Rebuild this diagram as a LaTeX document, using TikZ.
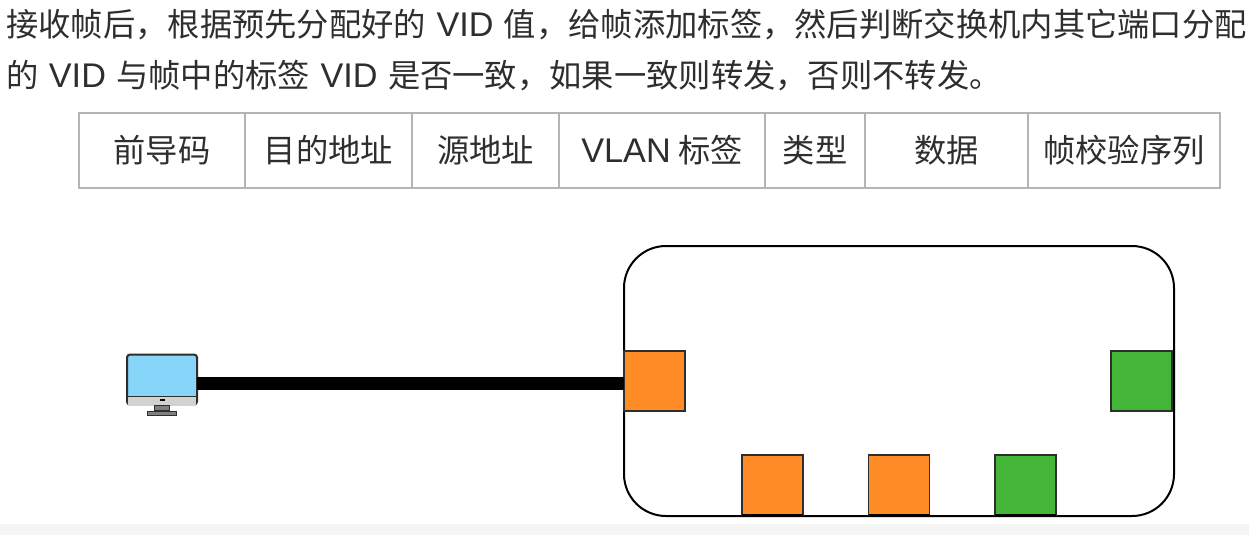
\documentclass[tikz,border=0pt]{standalone}
\usepackage{fontspec}
\usepackage{xcolor}
\setmainfont{Noto Sans CJK SC}
\newfontfamily\latinfont[Scale=1.06]{Liberation Sans}
\newcommand{\lat}[1]{{\latinfont #1}}
\usetikzlibrary{positioning}
\definecolor{portorange}{HTML}{FF8C26}
\definecolor{portgreen}{HTML}{43B638}
\definecolor{screenblue}{HTML}{87D5F8}
\definecolor{cellgray}{HTML}{B4B4B4}
\definecolor{stripgray}{HTML}{F5F5F5}
\definecolor{inkgray}{HTML}{2E2E2E}

\begin{document}
\begin{tikzpicture}[x=1pt,y=-1pt,font=\fontsize{32.3}{38}\selectfont,
 textline/.style={anchor=west,inner sep=0pt,text=inkgray,text height=28pt,text depth=3pt},
 cell/.style={draw=cellgray,line width=1.2pt,minimum height=75pt,inner sep=0pt,outer sep=0pt,text=inkgray},
 port/.style={draw=inkgray,line width=1.5pt,minimum width=61pt,minimum height=60pt,inner sep=0pt,outer sep=0pt},
 cable/.style={line width=13pt,black}]
\useasboundingbox (0,0) rectangle (1249,535);
\fill[stripgray] (0,524) rectangle (1249,535);
% text
\node[textline] (line1a) at (6,24) {接收帧后，根据预先分配好的};
\node[textline,right=10pt of line1a] (line1b) {\lat{VID}};
\node[textline,right=10pt of line1b] (line1c) {值，给帧添加标签，然后判断交换机内其它端口分配};
\node[textline] (line2a) at (6,75) {的};
\node[textline,right=10pt of line2a] (line2b) {\lat{VID}};
\node[textline,right=10pt of line2b] (line2c) {与帧中的标签};
\node[textline,right=10pt of line2c] (line2d) {\lat{VID}};
\node[textline,right=10pt of line2d] (line2e) {是否一致，如果一致则转发，否则不转发。};
% frame
\node[cell,minimum width=166pt,anchor=north west] (preamble) at (79,113) {前导码};
\node[cell,minimum width=167pt,right=0pt of preamble] (dest) {目的地址};
\node[cell,minimum width=147pt,right=0pt of dest] (source) {源地址};
\node[cell,minimum width=206pt,right=0pt of source] (vlan) {\lat{VLAN} 标签};
\node[cell,minimum width=100pt,right=0pt of vlan] (type) {类型};
\node[cell,minimum width=163pt,right=0pt of type] (data) {数据};
\node[cell,minimum width=192pt,right=0pt of data] (fcs) {帧校验序列};
% switch
\node[draw=black,line width=2pt,rounded corners=42pt,minimum width=550pt,minimum height=270pt,inner sep=0pt] (switch) at (899,381) {};
\node[port,fill=portorange] (port1) at (654.5,381) {};
\node[port,fill=portgreen] (port2) at (1141.5,381) {};
\node[port,fill=portorange] (port3) at (772.5,485) {};
\node[port,fill=portorange] (port4) at (899,485) {};
\node[port,fill=portgreen] (port5) at (1025.5,485) {};
\draw[line width=3pt,black] (port3.south west) -- (port3.south east);
\draw[line width=3pt,black] (port4.south west) -- (port4.south east);
\draw[line width=3pt,black] (port5.south west) -- (port5.south east);
% computer
\node[draw=inkgray,line width=2pt,fill=screenblue,rounded corners=3pt,minimum width=70pt,minimum height=50pt,inner sep=0pt,outer sep=0pt] (monitor) at (162,379.5) {};
\fill[gray!35] ([xshift=1pt,yshift=-1pt]monitor.south west) rectangle ([xshift=-1pt,yshift=8pt]monitor.south east);
\draw[inkgray,line width=1.2pt] ([yshift=8pt]monitor.south west) -- ([yshift=8pt]monitor.south east);
\fill[black] (160,399) rectangle (165,401);
\node[draw=inkgray,line width=1pt,fill=gray,minimum width=15pt,minimum height=5pt,inner sep=0pt,below=0pt of monitor] (neck) {};
\node[draw=inkgray,line width=1pt,fill=gray,minimum width=29pt,minimum height=4pt,inner sep=0pt,below=0pt of neck] (base) {};
% link
\coordinate (linkend) at (port1.west |- 0,383);
\draw[cable] (monitor.east |- linkend) -- (linkend);
\end{tikzpicture}
\end{document}
